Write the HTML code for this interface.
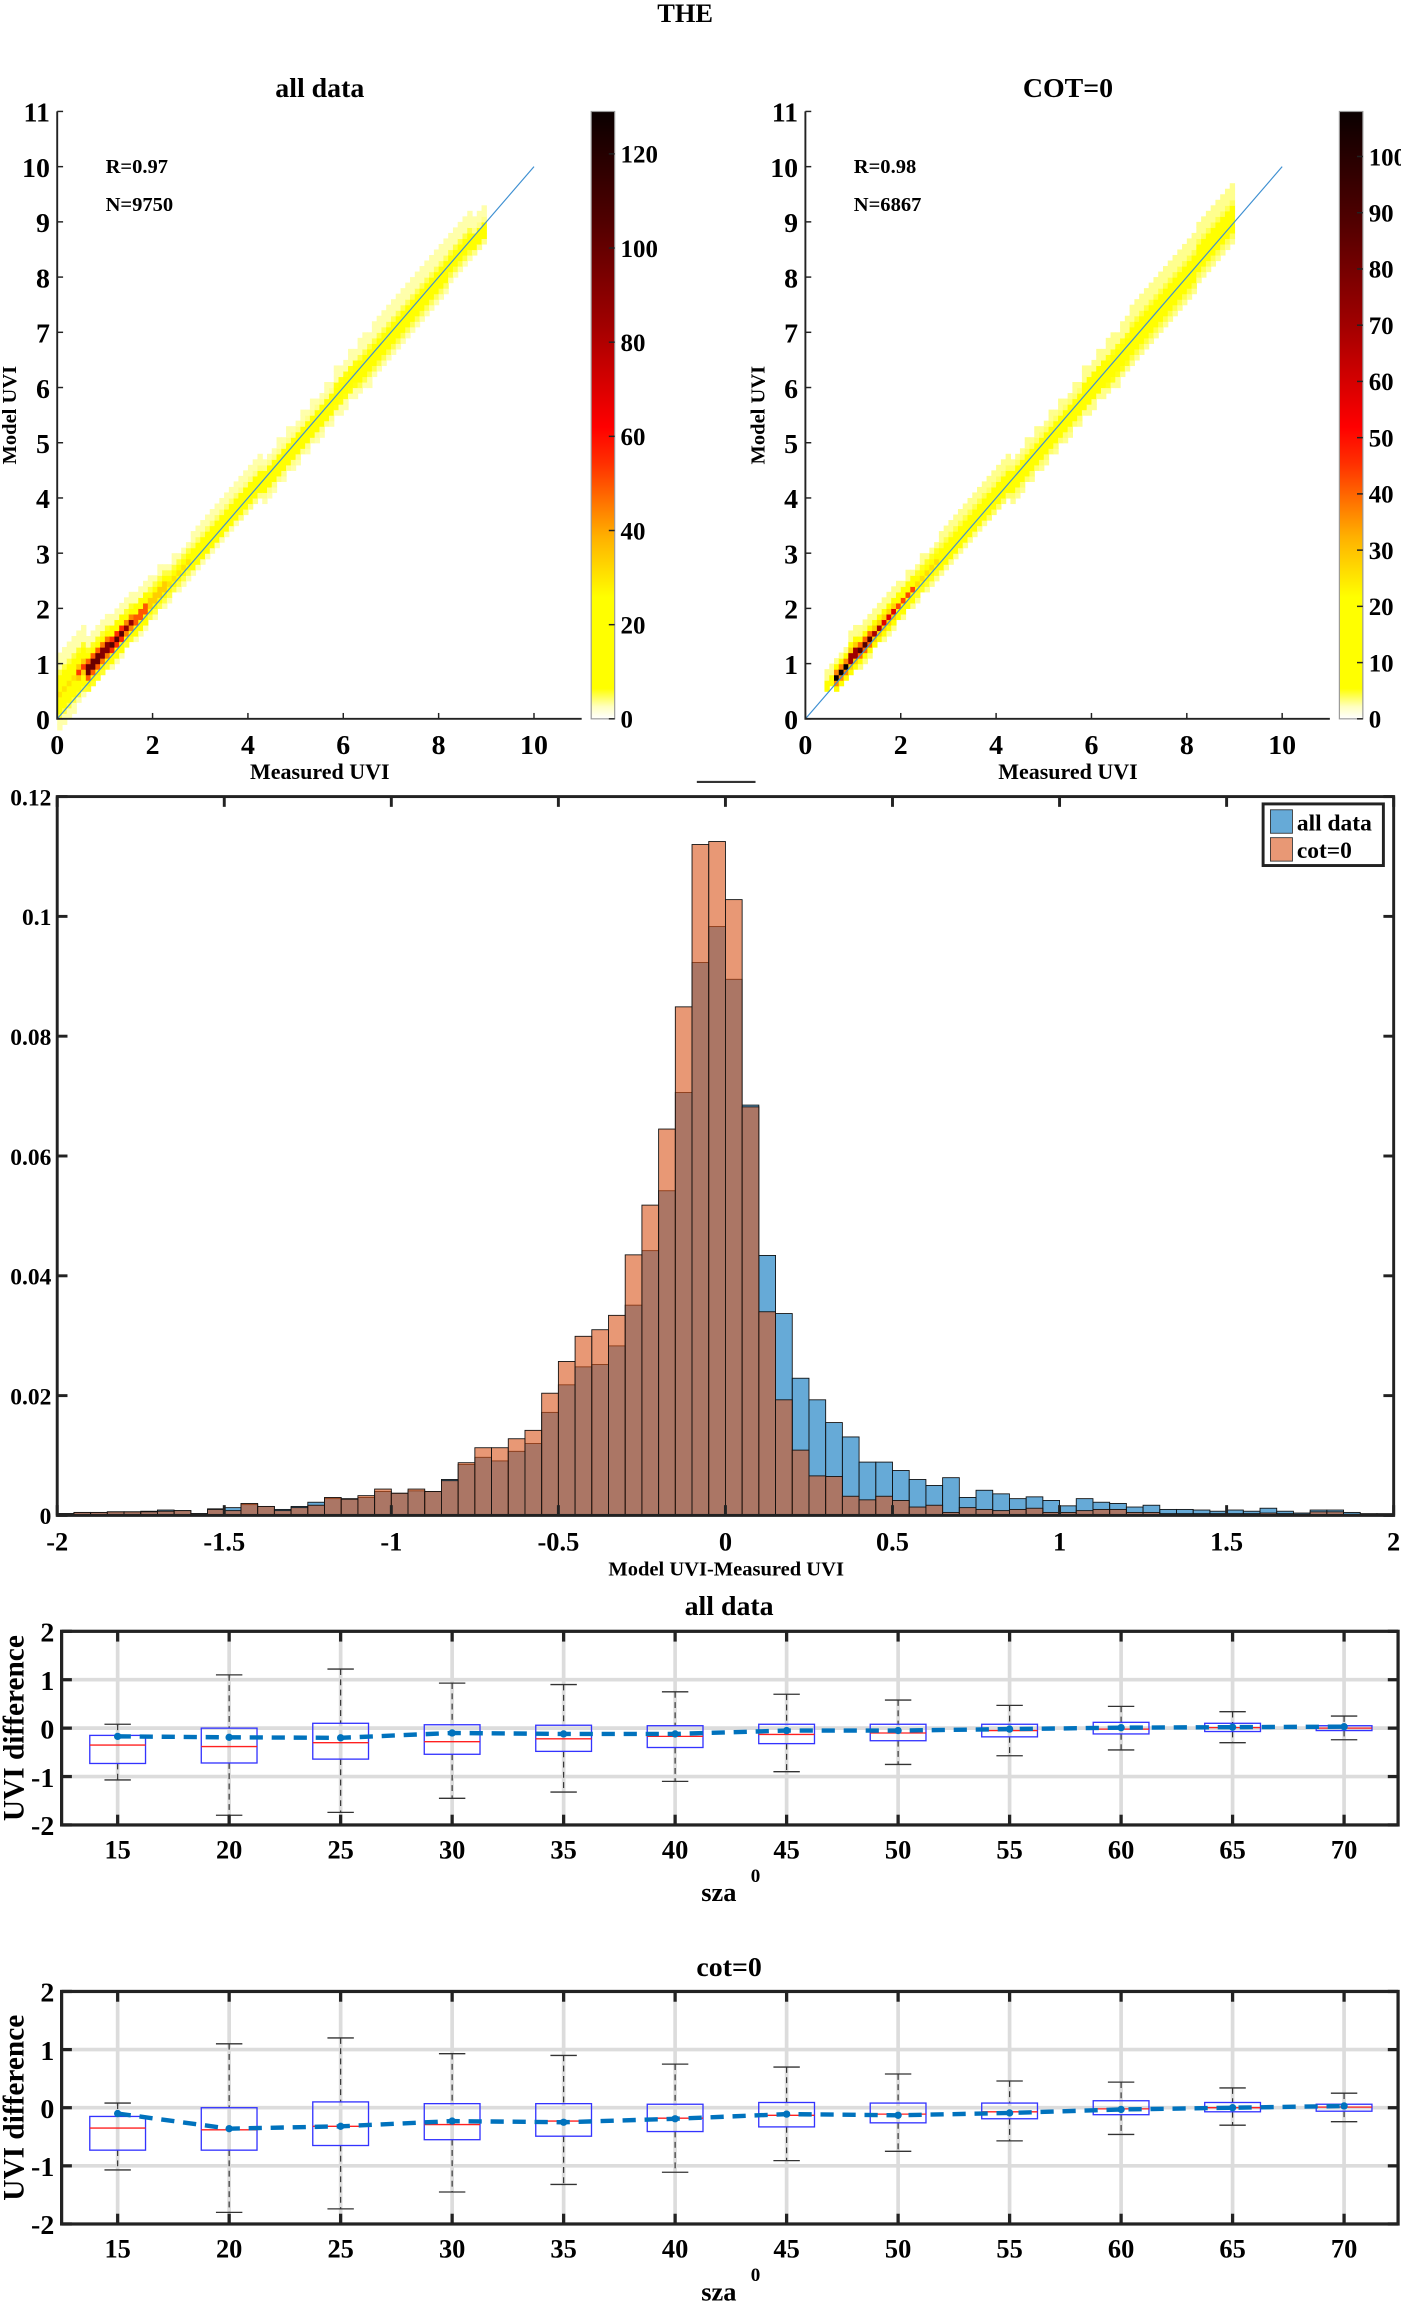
<!DOCTYPE html>
<html><head><meta charset="utf-8">
<style>
html,body{margin:0;padding:0;background:#fff;}
svg{display:block;font-family:"Liberation Serif",serif;font-weight:bold;}
</style></head>
<body>
<svg id="fig" width="1401" height="2301" viewBox="0 0 955 1568.5" preserveAspectRatio="none" xmlns="http://www.w3.org/2000/svg">
<rect width="955" height="1568.5" fill="#fff"/>
<defs>
<linearGradient id="hotg" x1="0" y1="1" x2="0" y2="0">
<stop offset="0" stop-color="#ffffff"/><stop offset="0.02" stop-color="#ffffc0"/><stop offset="0.05" stop-color="#ffff00"/>
<stop offset="0.2" stop-color="#ffff00"/><stop offset="0.3" stop-color="#ffb000"/><stop offset="0.42" stop-color="#ff3000"/><stop offset="0.48" stop-color="#ff0000"/>
<stop offset="0.65" stop-color="#a00000"/><stop offset="0.82" stop-color="#500000"/><stop offset="1" stop-color="#0a0000"/>
</linearGradient>
</defs>
<text x="467" y="15" text-anchor="middle" font-size="18">THE</text>
<g id="g"></g>
</svg>
<script>
// ---------- scatter heatmap data ----------
const colX = [0.25,0.5,0.75,1.0,1.25,1.5,1.75,2.0,2.5,3.0,3.5,4.0,4.5,5.0,5.5,6.0,6.5,7.0,7.5,8.0,8.5,8.8];
const allLo = [0.0,0.3,0.55,0.8,1.0,1.3,1.5,1.8,2.3,2.75,3.25,3.7,4.1,4.6,5.1,5.6,6.0,6.5,7.0,7.5,8.1,8.4];
const allHi = [1.4,1.6,1.55,1.8,2.0,2.2,2.4,2.6,3.0,3.5,4.0,4.5,4.9,5.4,5.9,6.5,7.0,7.5,8.0,8.5,9.0,9.1];
const allPeak = [22,45,125,115,95,80,60,40,22,18,16,15,13,11,10,10,8,7,6,5,4,3];
const cotLo = [0.5,0.5,0.6,0.8,1.0,1.3,1.5,1.8,2.3,2.75,3.25,3.7,4.1,4.6,5.1,5.6,6.0,6.5,7.0,7.5,8.1,8.4];
const cotHi = [0.8,0.9,1.2,1.6,1.8,2.0,2.3,2.5,3.0,3.5,4.0,4.5,4.9,5.4,5.9,6.5,7.0,7.6,8.1,8.6,9.2,9.5];
const cotPeak = [0,8,105,95,80,60,50,35,18,15,14,13,12,11,10,10,8,7,6,5,4,3];
const allCbTicks = [0,20,40,60,80,100,120];
const cotCbTicks = [0,10,20,30,40,50,60,70,80,90,100];

// ---------- histogram data (bin starts -2..1.95, width 0.05) ----------
const binStart = -2, binW = 0.05;
const histAll = [0.0003,0.0005,0.0005,0.0006,0.0006,0.0007,0.0009,0.0008,0.0003,0.0011,
0.0013,0.0018,0.0015,0.001,0.0015,0.0022,0.0028,0.0028,0.003,0.004,
0.0037,0.0041,0.004,0.006,0.0085,0.0097,0.0091,0.0107,0.012,0.0172,
0.0218,0.0248,0.0252,0.0283,0.0351,0.0442,0.0542,0.0706,0.0923,0.0983,
0.0895,0.0685,0.0434,0.0337,0.0229,0.0193,0.0155,0.0131,0.0089,0.0089,
0.0075,0.006,0.005,0.0063,0.003,0.0042,0.0036,0.0028,0.0031,0.0025,
0.0016,0.0028,0.0022,0.002,0.0014,0.0017,0.001,0.001,0.0009,0.0007,
0.0009,0.0007,0.0012,0.0007,0.0004,0.0009,0.0009,0.0005,0.0003,0.0003];
const histCot = [0.0003,0.0005,0.0005,0.0006,0.0006,0.0006,0.0007,0.0008,0.0003,0.001,
0.0008,0.002,0.0015,0.0008,0.0013,0.0017,0.003,0.0027,0.0033,0.0044,
0.0037,0.0044,0.004,0.0058,0.0088,0.0113,0.0113,0.0128,0.0142,0.0204,
0.0257,0.0299,0.031,0.0334,0.0435,0.0518,0.0645,0.0849,0.112,0.1125,
0.1028,0.0682,0.034,0.0193,0.0109,0.0066,0.0065,0.0032,0.0026,0.0032,
0.0025,0.0014,0.0017,0.0005,0.0013,0.001,0.0008,0.001,0.0012,0.0005,
0.0005,0.0008,0.001,0.001,0.0005,0.0005,0.0003,0.0003,0.0003,0.0003,
0.0003,0.0003,0.0004,0.0003,0.0002,0.0006,0.0006,0.0002,0.0002,0.0002];
const histXTicks = [-2,-1.5,-1,-0.5,0,0.5,1,1.5,2];
const histYTicks = [0,0.02,0.04,0.06,0.08,0.1,0.12];
const histYLabels = ['0','0.02','0.04','0.06','0.08','0.1','0.12'];

// ---------- box plot data ----------
const sza = [15,20,25,30,35,40,45,50,55,60,65,70];
const allWhiHi = [0.08,1.1,1.22,0.93,0.9,0.75,0.7,0.58,0.47,0.45,0.34,0.25];
const allQ3 = [-0.15,0.0,0.1,0.07,0.06,0.05,0.08,0.08,0.08,0.12,0.1,0.05];
const allMed = [-0.35,-0.38,-0.3,-0.28,-0.22,-0.17,-0.13,-0.1,-0.05,-0.02,0.01,0.0];
const allQ1 = [-0.73,-0.72,-0.64,-0.54,-0.48,-0.4,-0.32,-0.26,-0.18,-0.12,-0.07,-0.05];
const allWhiLo = [-1.07,-1.8,-1.74,-1.45,-1.32,-1.1,-0.9,-0.75,-0.57,-0.45,-0.3,-0.24];
const allMean = [-0.17,-0.19,-0.2,-0.1,-0.12,-0.12,-0.05,-0.05,-0.02,0.01,0.02,0.03];
const cotWhiHi = [0.08,1.1,1.2,0.93,0.9,0.75,0.7,0.58,0.46,0.44,0.34,0.25];
const cotQ3 = [-0.15,0.0,0.1,0.07,0.07,0.06,0.09,0.08,0.08,0.12,0.09,0.06];
const cotMed = [-0.35,-0.38,-0.32,-0.29,-0.23,-0.18,-0.13,-0.11,-0.07,-0.02,0.0,0.01];
const cotQ1 = [-0.73,-0.73,-0.65,-0.55,-0.49,-0.41,-0.33,-0.26,-0.19,-0.12,-0.07,-0.06];
const cotWhiLo = [-1.07,-1.8,-1.74,-1.45,-1.32,-1.11,-0.91,-0.75,-0.57,-0.46,-0.3,-0.24];
const cotMean = [-0.1,-0.36,-0.32,-0.23,-0.25,-0.19,-0.11,-0.13,-0.09,-0.03,0.0,0.03];
const boxYTicks = [-2,-1,0,1,2];

const NS = 'http://www.w3.org/2000/svg';
const root = document.getElementById('g');
function el(tag, attrs, parent, txt){
  const e = document.createElementNS(NS, tag);
  for (const k in attrs) e.setAttribute(k, attrs[k]);
  if (txt !== undefined) e.textContent = txt;
  (parent || root).appendChild(e);
  return e;
}
function hot(t){
  const stops=[[0,[255,255,255]],[0.02,[255,255,192]],[0.05,[255,255,0]],[0.2,[255,255,0]],[0.3,[255,176,0]],[0.42,[255,48,0]],[0.48,[255,0,0]],[0.65,[160,0,0]],[0.82,[80,0,0]],[1,[10,0,0]]];
  t=Math.max(0,Math.min(1,t));
  for(let i=1;i<stops.length;i++){ if(t<=stops[i][0]){const a=stops[i-1],b=stops[i];const f=(t-a[0])/(b[0]-a[0]);
    return 'rgb('+a[1].map((v,j)=>Math.round(v+(b[1][j]-v)*f)).join(',')+')';}}
  return 'rgb(10,0,0)';
}

// ---------- scatter panels ----------
function scatter(x0, title, rTxt, nTxt, lo, hi, peak, cbMax, cbTicks, name){
  const g = el('g', {}, root);
  
  
  const y0 = 490, kx = 32.5, ky = 37.64;
  const sx = v => x0 + v*kx, sy = v => y0 - v*ky;
  const t = el('text', {x: x0+179, y: 66, 'text-anchor':'middle','font-size':19}, g, title);
  
  
  const cw = 0.1;
  for (let k = 0; k < 90; k++) {
    const xv = 0.05 + k*cw;
    let idx = 0, best = 1e9;
    colX.forEach((c,i)=>{ const d=Math.abs(c-xv); if(d<best){best=d;idx=i;} });
    if (peak[idx] <= 0) continue;
    const shift = xv - colX[idx];
    const l = lo[idx] + shift, h = hi[idx] + shift, mid = (l+h)/2 - 0.05, hw = (h-l)/2;
    const n = Math.round((h-l)/cw);
    const base = Math.round(l/cw)*cw;
    for (let j = 0; j < n; j++) {
      const yv = base + j*cw;
      const d = Math.abs(yv + cw/2 - mid) / hw;
      const f = 1 - Math.min(d,1);
      const cnt = Math.max(3, peak[idx] * Math.pow(f, 3) + 8*f);
      const r = el('rect', {x: sx(xv-cw/2), y: sy(yv+cw), width: cw*kx+0.4, height: cw*ky+0.4, fill: hot(cnt/cbMax)}, g);
      
      
    }
  }
  const ln = el('line', {x1: sx(0), y1: sy(0), x2: sx(10), y2: sy(10), stroke:'#3d8fd1','stroke-width':0.8}, g);
  
  
  el('path', {d:`M${sx(0)},${sy(11)} V${sy(0)} H${sx(11)}`, fill:'none', stroke:'#222','stroke-width':1.3}, g);
  for (let v=0; v<=11; v++){
    el('line',{x1:sx(0),x2:sx(0)+4,y1:sy(v),y2:sy(v),stroke:'#222','stroke-width':1},g);
    const yl = el('text',{x:x0-5,y:sy(v)+7,'text-anchor':'end','font-size':19},g,String(v));
    
    
  }
  for (let v=0; v<=10; v+=2){
    el('line',{x1:sx(v),x2:sx(v),y1:y0,y2:y0-4,stroke:'#222','stroke-width':1},g);
    const xl = el('text',{x:sx(v),y:514,'text-anchor':'middle','font-size':19},g,String(v));
    
    
  }
  const xt = el('text',{x:x0+179,y:531,'text-anchor':'middle','font-size':15},g,'Measured UVI');
  
  
  const yt = el('text',{x:0,y:0,'text-anchor':'middle','font-size':14,transform:`translate(${x0-28},283) rotate(-90)`},g,'Model UVI');
  
  
  const rt = el('text',{x:x0+33,y:118,'font-size':14},g,rTxt);
  
  
  const nt = el('text',{x:x0+33,y:144,'font-size':14},g,nTxt);
  
  
  const cbx = x0 + 364;
  const cb = el('rect',{x:cbx,y:76,width:16,height:414,fill:'url(#hotg)',stroke:'#999','stroke-width':0.8},g);
  
  
  cbTicks.forEach(v=>{
    const yy = 490 - v/cbMax*414;
    el('line',{x1:cbx+16,x2:cbx+12,y1:yy,y2:yy,stroke:'#222','stroke-width':1},g);
    const c = el('text',{x:cbx+20,y:yy+6,'font-size':17},g,String(v));
    
    
  });
}
scatter(39,'all data','R=0.97','N=9750',allLo,allHi,allPeak,129,allCbTicks,'scatter-all-data');
scatter(549,'COT=0','R=0.98','N=6867',cotLo,cotHi,cotPeak,108,cotCbTicks,'scatter-cot0');

// ---------- histogram ----------
(function(){
  const g = el('g',{},root);
  
  
  const L=39,R=950,T=543,B=1033;
  const sx = v => L + (v+2)/4*(R-L), sy = v => B - v/0.12*(B-T);
  el('line',{x1:475,x2:515,y1:533,y2:533,stroke:'#333','stroke-width':1.5},g);
  histAll.forEach((v,i)=>{
    const x=binStart+i*binW;
    const r=el('rect',{x:sx(x),y:sy(v),width:sx(x+binW)-sx(x),height:B-sy(v),fill:'rgb(0,114,189)','fill-opacity':0.6,stroke:'#111','stroke-width':0.6},g);
    
    
  });
  histCot.forEach((v,i)=>{
    const x=binStart+i*binW;
    const r=el('rect',{x:sx(x),y:sy(v),width:sx(x+binW)-sx(x),height:B-sy(v),fill:'rgb(217,83,25)','fill-opacity':0.6,stroke:'#111','stroke-width':0.6},g);
    
    
  });
  el('rect',{x:L,y:T,width:R-L,height:B-T,fill:'none',stroke:'#222','stroke-width':2},g);
  histXTicks.forEach(v=>{
    el('line',{x1:sx(v),x2:sx(v),y1:T,y2:T+7,stroke:'#222','stroke-width':2},g);
    el('line',{x1:sx(v),x2:sx(v),y1:B,y2:B-7,stroke:'#222','stroke-width':2},g);
    const t=el('text',{x:sx(v),y:1057,'text-anchor':'middle','font-size':18},g,String(v));
    
    
  });
  histYTicks.forEach((v,i)=>{
    el('line',{x1:L,x2:L+7,y1:sy(v),y2:sy(v),stroke:'#222','stroke-width':2},g);
    el('line',{x1:R,x2:R-7,y1:sy(v),y2:sy(v),stroke:'#222','stroke-width':2},g);
    const t=el('text',{x:35,y:sy(v)+6,'text-anchor':'end','font-size':16},g,histYLabels[i]);
    
    
  });
  const xt=el('text',{x:495,y:1074,'text-anchor':'middle','font-size':14},g,'Model UVI-Measured UVI');
  
  
  const lg=el('g',{},g);
  
  
  el('rect',{x:861,y:548,width:82,height:42,fill:'#fff',stroke:'#222','stroke-width':2},lg);
  el('rect',{x:866,y:552,width:15,height:16,fill:'rgb(0,114,189)','fill-opacity':0.6,stroke:'#333','stroke-width':0.6},lg);
  el('rect',{x:866,y:571,width:15,height:16,fill:'rgb(217,83,25)','fill-opacity':0.6,stroke:'#333','stroke-width':0.6},lg);
  const l1=el('text',{x:884,y:566,'font-size':16},lg,'all data');
  
  
  const l2=el('text',{x:884,y:585,'font-size':16},lg,'cot=0');
  
  
})();

// ---------- box plots ----------
function boxplot(T,B,title,titleY,hi,q3,med,q1,lo,mean,name){
  const g=el('g',{},root);
  
  
  const L=42,R=953;
  const sx=v=>80.2+(v-15)/5*76, sy=v=>T+(2-v)/4*(B-T);
  const tt=el('text',{x:497,y:titleY,'text-anchor':'middle','font-size':19},g,title);
  
  
  [-1,0,1].forEach(v=>el('line',{x1:L,x2:R,y1:sy(v),y2:sy(v),stroke:'#dcdcdc','stroke-width':2.5},g));
  sza.forEach(s=>el('line',{x1:sx(s),x2:sx(s),y1:T,y2:B,stroke:'#dcdcdc','stroke-width':2.5},g));
  sza.forEach((s,i)=>{
    const bg=el('g',{},g);
    
    
    const x=sx(s);
    el('line',{x1:x,x2:x,y1:sy(hi[i]),y2:sy(q3[i]),stroke:'#333','stroke-width':0.8,'stroke-dasharray':'4 3'},bg);
    el('line',{x1:x,x2:x,y1:sy(q1[i]),y2:sy(lo[i]),stroke:'#333','stroke-width':0.8,'stroke-dasharray':'4 3'},bg);
    el('line',{x1:x-9,x2:x+9,y1:sy(hi[i]),y2:sy(hi[i]),stroke:'#333','stroke-width':0.9},bg);
    el('line',{x1:x-9,x2:x+9,y1:sy(lo[i]),y2:sy(lo[i]),stroke:'#333','stroke-width':0.9},bg);
    el('rect',{x:x-19,y:sy(q3[i]),width:38,height:sy(q1[i])-sy(q3[i]),fill:'none',stroke:'#3333ff','stroke-width':0.9},bg);
    el('line',{x1:x-19,x2:x+19,y1:sy(med[i]),y2:sy(med[i]),stroke:'#ff2020','stroke-width':0.9},bg);
  });
  const pts=sza.map((s,i)=>sx(s)+','+sy(mean[i])).join(' ');
  const pl=el('polyline',{points:pts,fill:'none',stroke:'#0072bd','stroke-width':3,'stroke-dasharray':'9 6'},g);
  
  
  sza.forEach((s,i)=>{
    const c=el('circle',{cx:sx(s),cy:sy(mean[i]),r:2.5,fill:'#0072bd'},g);
    
    
  });
  el('rect',{x:L,y:T,width:R-L,height:B-T,fill:'none',stroke:'#222','stroke-width':2.2},g);
  sza.forEach(s=>{
    el('line',{x1:sx(s),x2:sx(s),y1:T,y2:T+7,stroke:'#222','stroke-width':2.2},g);
    el('line',{x1:sx(s),x2:sx(s),y1:B,y2:B-7,stroke:'#222','stroke-width':2.2},g);
    const t=el('text',{x:sx(s),y:B+23,'text-anchor':'middle','font-size':18},g,String(s));
    
    
  });
  boxYTicks.forEach(v=>{
    el('line',{x1:L,x2:L+7,y1:sy(v),y2:sy(v),stroke:'#222','stroke-width':2.2},g);
    el('line',{x1:R,x2:R-7,y1:sy(v),y2:sy(v),stroke:'#222','stroke-width':2.2},g);
    const t=el('text',{x:37,y:sy(v)+7,'text-anchor':'end','font-size':19},g,String(v));
    
    
  });
  const xt=el('text',{x:490,y:B+52,'text-anchor':'middle','font-size':18},g,'sza');
  
  
  const sup=el('text',{x:515,y:B+39,'text-anchor':'middle','font-size':13},g,'0');
  
  
  const yt=el('text',{x:0,y:0,'text-anchor':'middle','font-size':20,transform:`translate(16,${(T+B)/2}) rotate(-90)`},g,'UVI difference');
  
  
}
boxplot(1112,1244,'all data',1101,allWhiHi,allQ3,allMed,allQ1,allWhiLo,allMean,'boxplot-all-data');
boxplot(1357.5,1516,'cot=0',1347,cotWhiHi,cotQ3,cotMed,cotQ1,cotWhiLo,cotMean,'boxplot-cot0');
</script>
</body></html>
